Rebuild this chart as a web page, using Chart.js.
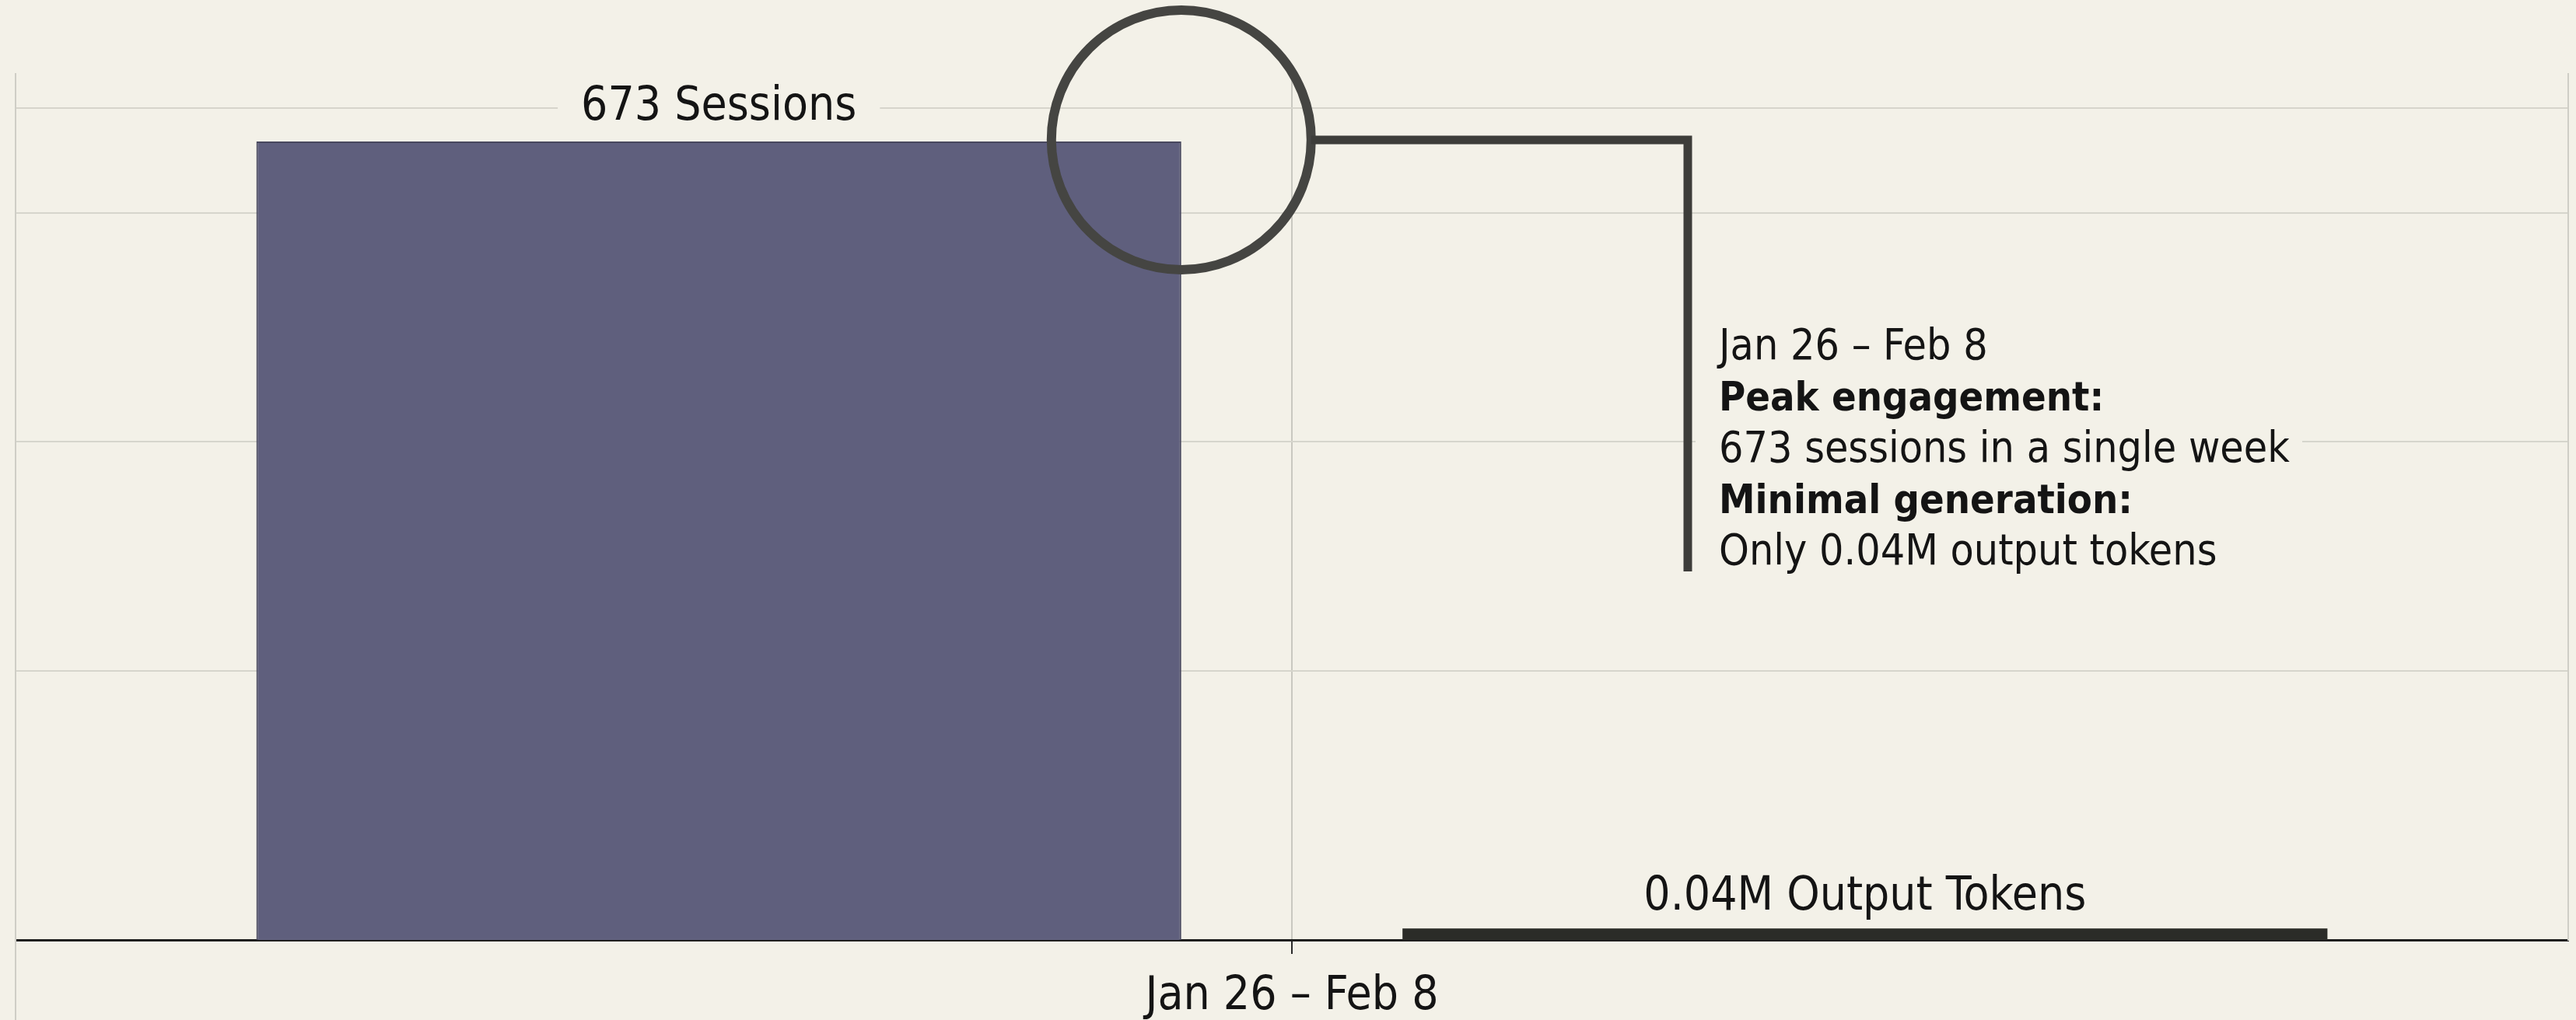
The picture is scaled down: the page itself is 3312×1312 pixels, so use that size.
<!DOCTYPE html>
<html>
<head>
<meta charset="utf-8">
<script src="https://cdn.jsdelivr.net/npm/chart.js@4.4.1/dist/chart.umd.min.js"></script>
<style>
  html, body { margin: 0; padding: 0; background: #f3f1e8; }
  #chartBox { width: 3312px; height: 1312px; }
</style>
</head>
<body>
<div id="chartBox"><canvas id="myChart" width="3312" height="1312"></canvas></div>
<script>
        // data
        var weeks = ['Jan 26 – Feb 8'];
        var sessions = [673];
        var outputTokensM = [0.04];
        var sessionGridTicks = [227, 420, 613, 701];
        var sessionsMax = 730;
        var tokensMax = 3;

        var noteLines = [
            ['Jan 26 – Feb 8', false],
            ['Peak engagement:', true],
            ['673 sessions in a single week', false],
            ['Minimal generation:', true],
            ['Only 0.04M output tokens', false]
        ];

        var bg = '#f3f1e8';
        var narrow = '"Liberation Sans Narrow", "DejaVu Sans Condensed", Roboto, sans-serif';

        // label with a paper-coloured box behind it so the grid line breaks around it
        function boxedLabel(ctx, text, x, y) {
            ctx.font = '60px ' + narrow;
            var w = ctx.measureText(text).width;
            ctx.fillStyle = bg;
            ctx.fillRect(x - w / 2 - 30, y - 36, w + 60, 72);
            ctx.fillStyle = '#141414';
            ctx.textAlign = 'center';
            ctx.textBaseline = 'middle';
            ctx.fillText(text, x, y);
        }

        var annotate = {
            id: 'annotate',
            beforeDraw: function (chart) {
                var ctx = chart.ctx;
                ctx.save();
                ctx.fillStyle = bg;
                ctx.fillRect(0, 0, chart.width, chart.height);
                ctx.restore();
            },
            afterDatasetsDraw: function (chart) {
                var ctx = chart.ctx;
                var area = chart.chartArea;
                var sBar = chart.getDatasetMeta(0).data[0];
                var tBar = chart.getDatasetMeta(1).data[0];
                var xMid = chart.scales.x.getPixelForValue(0);

                ctx.save();

                // left frame line runs on below the baseline
                ctx.strokeStyle = '#cfcec6';
                ctx.lineWidth = 2;
                ctx.beginPath();
                ctx.moveTo(area.left, area.bottom);
                ctx.lineTo(area.left, chart.height);
                ctx.stroke();

                boxedLabel(ctx, sessions[0] + ' Sessions', sBar.x, sBar.y - 44);
                boxedLabel(ctx, outputTokensM[0] + 'M Output Tokens', tBar.x, tBar.y - 40);

                // circle on the top right corner of the sessions bar
                var cx = sBar.x + sBar.width / 2;
                var cy = sBar.y - 2;
                var r = 167;
                ctx.strokeStyle = '#454542';
                ctx.lineWidth = 12;
                ctx.beginPath();
                ctx.arc(cx, cy, r, 0, Math.PI * 2);
                ctx.stroke();

                // note text block
                var vx = xMid + 509;
                var tx = vx + 40;
                var firstBase = 462;
                var step = 66;
                ctx.fillStyle = bg;
                ctx.fillRect(vx + 10, firstBase - 58, 780, step * 4 + 80);

                ctx.strokeStyle = '#3d3d3a';
                ctx.lineWidth = 11;
                ctx.lineJoin = 'miter';
                ctx.beginPath();
                ctx.moveTo(cx + r, cy);
                ctx.lineTo(vx, cy);
                ctx.lineTo(vx, firstBase + step * 4 + 9);
                ctx.stroke();

                ctx.fillStyle = '#141414';
                ctx.textAlign = 'left';
                ctx.textBaseline = 'alphabetic';
                noteLines.forEach(function (line, i) {
                    ctx.font = (line[1] ? 'bold 52px ' : '55px ') + narrow;
                    ctx.fillText(line[0], tx, firstBase + i * step);
                });

                ctx.restore();
            }
        };

        const ctx = document.getElementById('myChart');

        new Chart(ctx, {
            type: 'bar',
            data: {
                labels: weeks,
                datasets: [{
                    label: 'Sessions',
                    data: sessions,
                    yAxisID: 'y',
                    backgroundColor: '#5f5f7d',
                    borderColor: '#48485e',
                    borderWidth: 2,
                    categoryPercentage: 0.898,
                    barPercentage: 0.807
                }, {
                    label: 'Output Tokens (M)',
                    data: outputTokensM,
                    yAxisID: 'y2',
                    backgroundColor: '#2b2c28',
                    borderWidth: 0,
                    categoryPercentage: 0.898,
                    barPercentage: 0.807
                }]
            },
            options: {
                responsive: false,
                animation: false,
                devicePixelRatio: 1,
                layout: {
                    padding: { left: 20, right: 10, top: 95, bottom: -25 }
                },
                plugins: {
                    legend: { display: false },
                    tooltip: { enabled: false }
                },
                scales: {
                    x: {
                        grid: {
                            offset: false,
                            color: '#c9c8c0',
                            lineWidth: 2,
                            tickColor: '#2a2a2a',
                            tickWidth: 2,
                            tickLength: 18
                        },
                        border: { color: '#1e1e1e', width: 3 },
                        ticks: {
                            color: '#141414',
                            padding: 19,
                            font: { family: narrow, size: 60 }
                        }
                    },
                    y: {
                        position: 'left',
                        min: 0,
                        max: sessionsMax,
                        afterBuildTicks: function (scale) {
                            scale.ticks = sessionGridTicks.map(function (v) { return { value: v }; });
                        },
                        grid: { color: '#d6d5cc', lineWidth: 2, drawTicks: false },
                        border: { color: '#cfcec6', width: 2 },
                        ticks: { display: false }
                    },
                    y2: {
                        position: 'right',
                        min: 0,
                        max: tokensMax,
                        grid: { display: false, drawTicks: false },
                        border: { color: '#cfcec6', width: 2 },
                        ticks: { display: false }
                    }
                }
            },
            plugins: [annotate]
        });
</script>
</body>
</html>
